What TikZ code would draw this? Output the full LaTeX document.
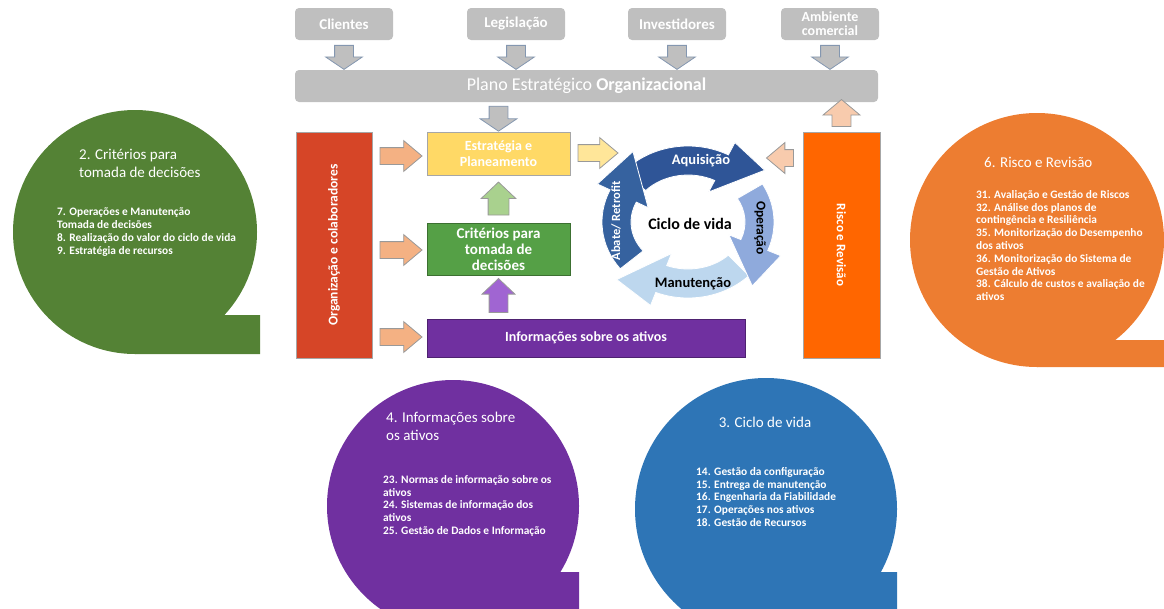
\documentclass[tikz,border=0pt]{standalone}
\usepackage{fontspec}
\setmainfont{Carlito}
\usetikzlibrary{shapes.arrows, positioning}

\definecolor{boxgray}{HTML}{BFBFBF}
\definecolor{arrowedge}{HTML}{8497B0}
\definecolor{orgred}{HTML}{D64527}
\definecolor{riskorange}{HTML}{FF6600}
\definecolor{stratyellow}{HTML}{FFD966}
\definecolor{critgreen}{HTML}{55A046}
\definecolor{infopurple}{HTML}{7030A0}
\definecolor{salmon}{HTML}{F4B183}
\definecolor{lightsalmon}{HTML}{F8CBAD}
\definecolor{paleyellow}{HTML}{FFE699}
\definecolor{palegreen}{HTML}{A9D18E}
\definecolor{lilac}{HTML}{A065D2}
\definecolor{acqblue}{HTML}{2F5597}
\definecolor{opblue}{HTML}{8FAADC}
\definecolor{mntblue}{HTML}{BDD7EE}
\definecolor{abtblue}{HTML}{36629F}
\definecolor{bubgreen}{HTML}{548235}
\definecolor{buborange}{HTML}{ED7D31}
\definecolor{bubpurple}{HTML}{7030A0}
\definecolor{bubblue}{HTML}{2E75B6}

\begin{document}
\begin{tikzpicture}[x=1pt,y=1pt,font=\bfseries,text=white,node distance=4pt]

	\tikzset{top box/.style={rectangle, rounded corners=4pt, fill=boxgray,
			minimum width=98pt, minimum height=32pt, inner sep=1pt, align=center,
			font=\bfseries\fontsize{15}{14}\selectfont}}
	\tikzset{main box/.style={rectangle, draw=gray!70, line width=0.8pt,
			inner sep=2pt, align=center,
			font=\bfseries\fontsize{14}{16}\selectfont}}
	\tikzset{block/.style={single arrow, single arrow tip angle=100,
			inner xsep=0pt, inner ysep=9pt, single arrow head extend=9pt,
			minimum width=36pt, minimum height=24pt, line width=0.8pt}}
	\tikzset{gray block/.style={block, fill=boxgray, draw=arrowedge,
			single arrow tip angle=112}}
	\tikzset{side block/.style={block, draw=gray!80, inner ysep=8pt,
			single arrow head extend=7pt, minimum width=30pt,
			single arrow tip angle=80}}
	\tikzset{cycle part/.style={draw=white, line width=0.8pt}}
	\tikzset{cycle label/.style={font=\bfseries\fontsize{13.5}{14}\selectfont}}
	\tikzset{bubble title/.style={anchor=north west, align=left, inner sep=0pt,
			font=\fontsize{15}{18}\selectfont}}
	\tikzset{bubble text/.style={anchor=north west, align=left, inner sep=0pt,
			font=\bfseries\fontsize{11.4}{12.8}\selectfont}}

	\useasboundingbox (0,0) rectangle (1164,-608);
	\clip (0,0) rectangle (1164,-608);

	% speech bubbles
	\fill[bubgreen] (135,-232) circle (122);
	\fill[bubgreen] (225,-315) -- (260,-315) -- (260,-354) -- (135,-354) -- (135,-232) -- cycle;
	\fill[buborange] (1037,-240) circle (127);
	\fill[buborange] (1115,-340) -- (1164,-340) -- (1164,-367) -- (1037,-367) -- (1037,-240) -- cycle;
	\fill[bubpurple] (453,-506) circle (126);
	\fill[bubpurple] (560,-572) -- (579,-572) -- (579,-632) -- (453,-632) -- (453,-506) -- cycle;
	\fill[bubblue] (766,-509) circle (131);
	\fill[bubblue] (881,-572) -- (897,-572) -- (897,-640) -- (766,-640) -- (766,-509) -- cycle;

	\node[bubble title] (gtitle) at (79,-149) {2. Critérios para\\tomada de decisões};
	\node[bubble text] (gtext) at (57,-208) {7. Operações e Manutenção\\Tomada de decisões\\8. Realização do valor do ciclo de vida\\9. Estratégia de recursos};

	\node[bubble title] (otitle) at (984,-157) {6. Risco e Revisão};
	\node[bubble text] (otext) at (976,-190) {31. Avaliação e Gestão de Riscos\\32. Análise dos planos de\\contingência e Resiliência\\35. Monitorização do Desempenho\\dos ativos\\36. Monitorização do Sistema de\\Gestão de Ativos\\38. Cálculo de custos e avaliação de\\ativos};

	\node[bubble title] (ptitle) at (386,-412) {4. Informações sobre\\os ativos};
	\node[bubble text] (ptext) at (383,-475) {23. Normas de informação sobre os\\ativos\\24. Sistemas de informação dos\\ativos\\25. Gestão de Dados e Informação};

	\node[bubble title, anchor=north] (btitle) at (765,-417) {3. Ciclo de vida};
	\node[bubble text] (btext) at (696,-467) {14. Gestão da configuração\\15. Entrega de manutenção\\16. Engenharia da Fiabilidade\\17. Operações nos ativos\\18. Gestão de Recursos};

	% outside influences
	\node[top box] (cli) at (344,-24) {Clientes};
	\node[top box] (leg) at (516,-24) {Legislação};
	\node[top box] (inv) at (677,-24) {Investidores};
	\node[top box, font=\bfseries\fontsize{14}{14}\selectfont] (amb) at (830,-24) {Ambiente\\comercial};

	\node[gray block, rotate=-90] (a1) at ([yshift=-14pt]cli.south) {};
	\node[gray block, rotate=-90] (a2) at ([yshift=-14pt]leg.south) {};
	\node[gray block, rotate=-90] (a3) at ([yshift=-14pt]inv.south) {};
	\node[gray block, rotate=-90] (a4) at ([yshift=-14pt]amb.south) {};

	\node[top box, minimum width=583pt, font=\fontsize{18}{18}\selectfont] (plano) at (586.5,-86)
		{Plano Estratégico \textbf{Organizacional}};

	% main boxes
	\node[main box, fill=orgred, rotate=90, minimum width=226pt, minimum height=76pt,
		font=\bfseries\fontsize{13.5}{14}\selectfont] (org) at (334,-245) {Organização e colaboradores};
	\node[main box, fill=riskorange, rotate=-90, minimum width=226pt, minimum height=77pt,
		font=\bfseries\fontsize{13}{14}\selectfont] (risk) at (841.5,-245) {Risco e Revisão};
	\node[main box, fill=stratyellow, minimum width=143pt, minimum height=43pt] (plan) at (498.5,-153.5)
		{Estratégia e\\Planeamento};
	\node[main box, fill=critgreen, draw=critgreen!70!black, minimum width=143pt, minimum height=52pt,
		font=\bfseries\fontsize{15}{16}\selectfont] (crit) at (498.5,-249) {Critérios para\\tomada de\\decisões};
	\node[main box, fill=infopurple, draw=infopurple!70!black, minimum width=318pt, minimum height=38pt] (info) at (586,-338)
		{Informações sobre os ativos};

	% block arrows between boxes
	\node[gray block, rotate=-90, minimum height=25pt] (p1) at (498.5,-115.5) {};
	\node[block, draw=gray!80, fill=lightsalmon, rotate=90, minimum height=27pt, minimum width=37pt] (r1) at (841.5,-117) {};
	\node[side block, fill=salmon, minimum height=42pt] (o1) at (396,-156) {};
	\node[side block, fill=salmon, minimum height=42pt] (o2) at (396,-250) {};
	\node[side block, fill=salmon, minimum height=42pt] (o3) at (396,-337) {};
	\node[side block, fill=paleyellow, minimum height=40pt, minimum width=28pt] (y1) at (593,-153) {};
	\node[side block, fill=lightsalmon, rotate=180, minimum height=27pt] (r2) at (785,-158) {};
	\node[block, draw=gray!80, fill=palegreen, rotate=90, minimum height=33pt, minimum width=34pt,
		inner ysep=10pt, single arrow head extend=7pt, single arrow tip angle=93] (g1) at (498.5,-203.5) {};
	\node[block, draw=gray!80, fill=lilac, rotate=90, minimum height=34pt, minimum width=32pt,
		single arrow head extend=7pt, single arrow tip angle=93] (v1) at (498.5,-300) {};

	% life cycle
	\begin{scope}[shift={(688,-222)}]
		\filldraw[cycle part, fill=mntblue] (-45:86 and 76) arc[start angle=-45, end angle=-112, x radius=86, y radius=76]
			-- (-112:100 and 90) -- (-138:96 and 86) -- (-112:44 and 34) -- (-112:57 and 47)
			arc[start angle=-112, end angle=-45, x radius=57, y radius=47] -- cycle;
		\filldraw[cycle part, fill=opblue] (30:86 and 76) arc[start angle=30, end angle=-22, x radius=86, y radius=76]
			-- (-22:100 and 90) -- (-48:96 and 86) -- (-22:44 and 34) -- (-22:57 and 47)
			arc[start angle=-22, end angle=30, x radius=57, y radius=47] -- cycle;
		\filldraw[cycle part, fill=acqblue] (138:86 and 76) arc[start angle=138, end angle=62, x radius=86, y radius=76]
			-- (62:100 and 90) -- (37:96 and 86) -- (62:44 and 34) -- (62:57 and 47)
			arc[start angle=62, end angle=138, x radius=57, y radius=47] -- cycle;
		\filldraw[cycle part, fill=abtblue] (218:86 and 76) arc[start angle=218, end angle=155, x radius=86, y radius=76]
			-- (155:100 and 90) -- (125:96 and 86) -- (155:44 and 34) -- (155:57 and 47)
			arc[start angle=155, end angle=218, x radius=57, y radius=47] -- cycle;
	\end{scope}

	\node[cycle label, font=\bfseries\fontsize{14.5}{15}\selectfont] (acq) at (701,-161) {Aquisição};
	\node[cycle label, text=black, rotate=-90] (opr) at (760,-228) {Operação};
	\node[cycle label, text=black, font=\bfseries\fontsize{14.5}{15}\selectfont] (mnt) at (693,-284) {Manutenção};
	\node[cycle label, rotate=90, font=\bfseries\fontsize{12.5}{13}\selectfont] (abt) at (616,-221) {Abate/ Retrofit};
	\node[text=black, font=\bfseries\fontsize{16}{16}\selectfont] (ciclo) at (690,-224) {Ciclo de vida};

\end{tikzpicture}
\end{document}
